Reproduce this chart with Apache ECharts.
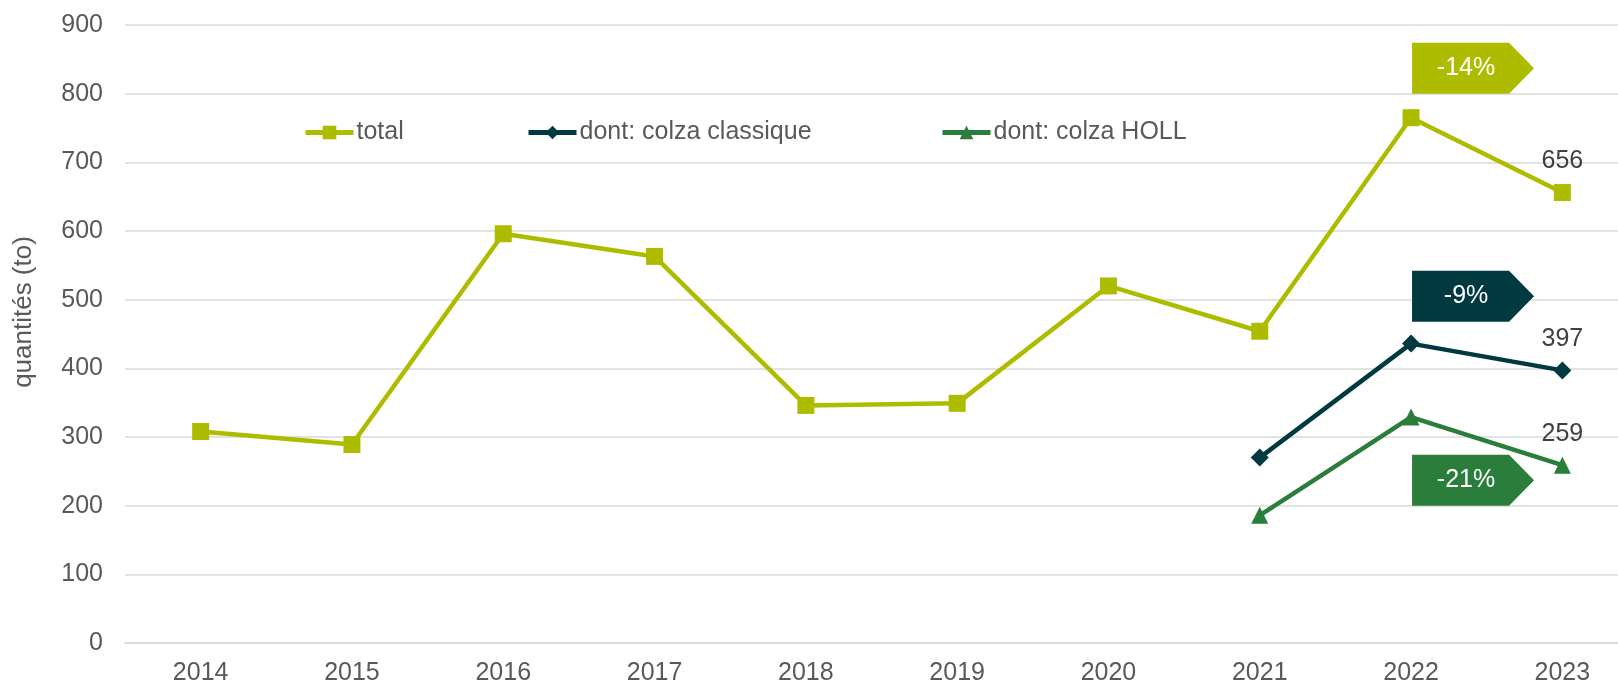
<!DOCTYPE html>
<html lang="fr">
<head>
    <meta charset="UTF-8">
    <title>colza</title>
    <script src="https://cdn.jsdelivr.net/npm/echarts@6/dist/echarts.min.js"></script>
    <style>
        html, body { margin: 0; padding: 0; background: #fff; }
        #main { width: 1618px; height: 687px; }
    </style>
</head>
<body>
<div id="main"></div>
<script type="text/javascript">
    var years = ['2014', '2015', '2016', '2017', '2018', '2019', '2020', '2021', '2022', '2023'];
    var total = [308, 289, 596, 563, 346, 349, 520, 454, 765, 656];
    var classique = [null, null, null, null, null, null, null, 270, 436, 397];
    var holl = [null, null, null, null, null, null, null, 186, 329, 259];
    var changes = ['-14%', '-9%', '-21%'];

    var cTotal = '#AEBC00', cClassique = '#003A40', cHoll = '#2A7D3A';
    var font = 'Liberation Sans, Arial, sans-serif';
    var arrow = 'path://M0,0L97,0L122,25.5L97,51L0,51Z';

    // etiquette seulement sur la derniere annee
    function lastLabel(arr) {
        return arr.map(function (v, i) {
            if (i === arr.length - 1) {
                return {value: v, label: {show: true}};
            }
            return v;
        });
    }

    function badge(text, color, y) {
        return {
            symbol: arrow,
            symbolSize: [122, 51],
            symbolOffset: [62, 0],
            symbolKeepAspect: false,
            itemStyle: {color: color},
            label: {
                show: true,
                position: 'inside',
                offset: [-7, 0],
                color: '#fff',
                fontSize: 25,
                fontFamily: font
            },
            data: [{coord: ['2022', y], value: text}]
        };
    }

    var seriesLabel = {
        position: 'top',
        distance: 10,
        color: '#404040',
        fontSize: 25,
        fontFamily: font
    };

    var myChart = echarts.init(document.getElementById('main'));

    var option = {
        animation: false,
        textStyle: {fontFamily: font},
        grid: {left: 125, right: -20, top: 25, bottom: 44, outerBoundsMode: 'none', containLabel: false},
        legend: [
            {left: 298, top: 115, data: ['total']},
            {left: 521, top: 115, data: ['dont: colza classique']},
            {left: 935, top: 115, data: ['dont: colza HOLL']}
        ].map(function (l) {
            l.itemWidth = 48;
            l.itemHeight = 17;
            l.itemGap = 3;
            l.lineStyle = {width: 5};
            l.textStyle = {color: '#595959', fontSize: 25, fontFamily: font, padding: [0, 0, 0, -2]};
            return l;
        }),
        xAxis: {
            type: 'category',
            data: years,
            boundaryGap: true,
            axisLine: {lineStyle: {color: '#D9D9D9', width: 1.5}},
            axisTick: {show: false},
            axisLabel: {color: '#595959', fontSize: 25, margin: 18, fontFamily: font}
        },
        yAxis: {
            type: 'value',
            min: 0,
            max: 900,
            interval: 100,
            name: 'quantités (to)',
            nameLocation: 'middle',
            nameGap: 88,
            nameTextStyle: {color: '#595959', fontSize: 26, fontFamily: font, padding: [0, 0, 0, 44]},
            axisLine: {show: false},
            axisTick: {show: false},
            axisLabel: {color: '#595959', fontSize: 25, margin: 22, fontFamily: font},
            splitLine: {lineStyle: {color: '#D9D9D9', width: 1.5}}
        },
        series: [
            {
                name: 'total',
                type: 'line',
                data: lastLabel(total),
                color: cTotal,
                lineStyle: {width: 4.5},
                symbol: 'rect',
                symbolSize: 17,
                label: seriesLabel,
                markPoint: badge(changes[0], cTotal, 837)
            },
            {
                name: 'dont: colza classique',
                type: 'line',
                data: lastLabel(classique),
                color: cClassique,
                lineStyle: {width: 4.5},
                symbol: 'diamond',
                symbolSize: 18,
                label: seriesLabel,
                markPoint: badge(changes[1], cClassique, 505)
            },
            {
                name: 'dont: colza HOLL',
                type: 'line',
                data: lastLabel(holl),
                color: cHoll,
                lineStyle: {width: 4.5},
                symbol: 'triangle',
                symbolSize: 17,
                label: seriesLabel,
                markPoint: badge(changes[2], cHoll, 237)
            }
        ]
    };

    myChart.setOption(option);
</script>
</body>
</html>
